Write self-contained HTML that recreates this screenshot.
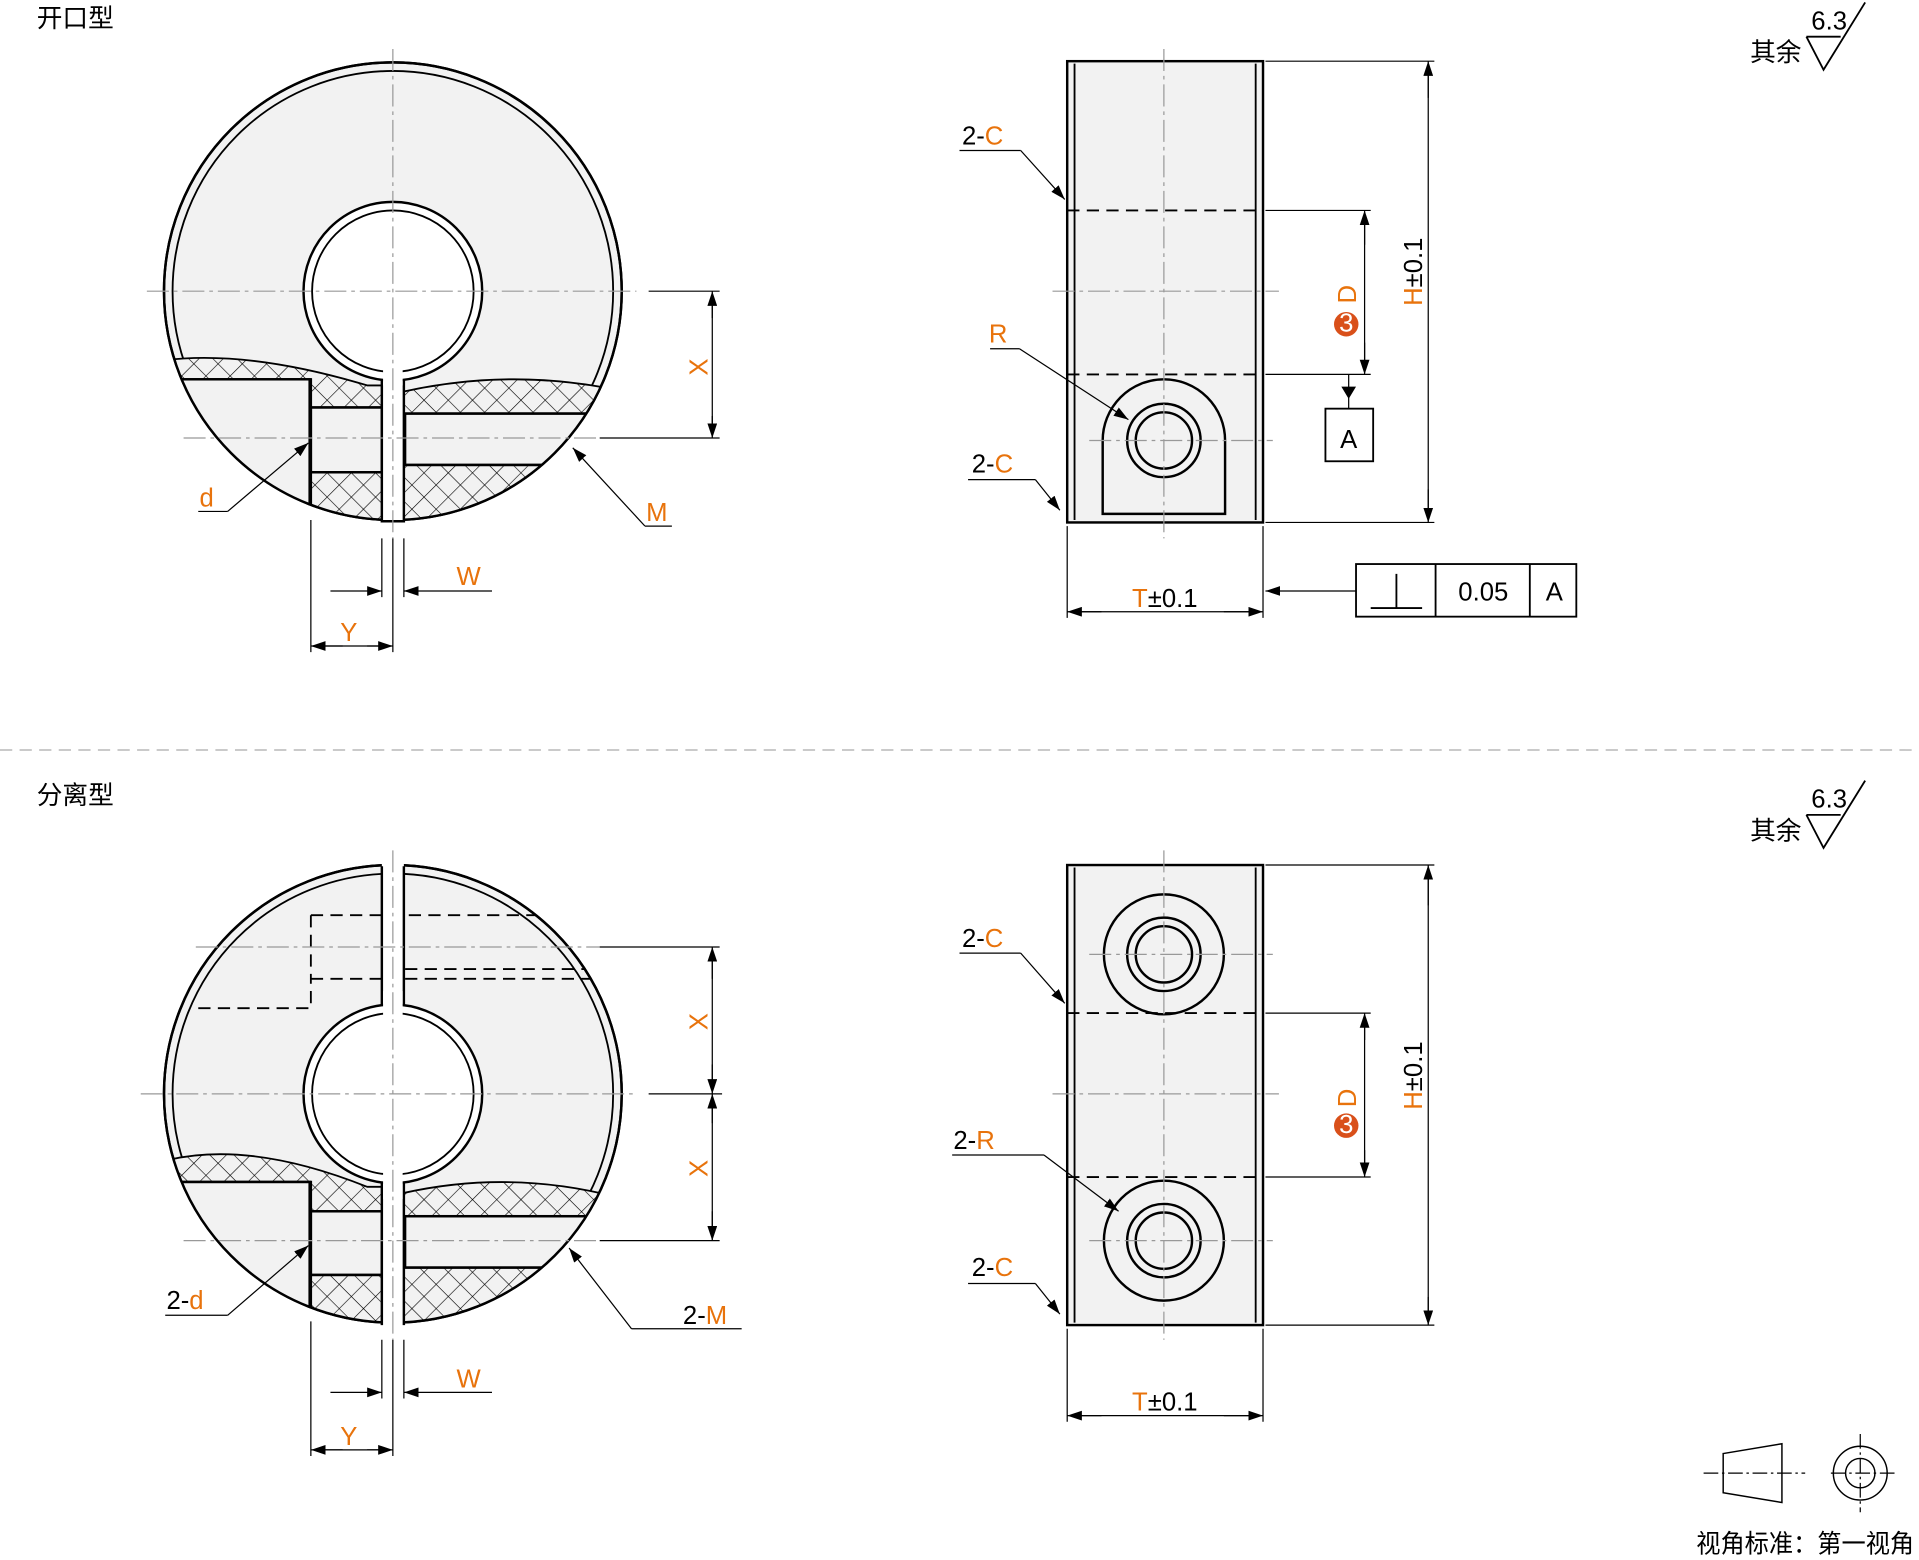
<!DOCTYPE html>
<html><head><meta charset="utf-8"><style>
html,body{margin:0;padding:0;background:#fff}
svg{display:block}
text{font-family:"Liberation Sans","Noto Sans CJK SC",sans-serif;font-size:21px}
.o{fill:#e8730c}
.ar{marker-end:url(#a);stroke-width:1}
</style></head><body>
<svg width="1919" height="1560" viewBox="0 0 1568 1275" preserveAspectRatio="none" xmlns="http://www.w3.org/2000/svg">
<defs>
<pattern id="h" width="14" height="14" patternUnits="userSpaceOnUse" patternTransform="rotate(45)">
<rect width="14" height="14" fill="#f2f2f2"/><path d="M0 0V14M0 0H14" stroke="#000" stroke-width="1"/></pattern>
<marker id="a" markerWidth="12" markerHeight="8" refX="12" refY="4" orient="auto" markerUnits="userSpaceOnUse"><path d="M0 0L12 4L0 8z" fill="#000"/></marker>
<clipPath id="c1"><circle cx="321" cy="238" r="187"/></clipPath>
<clipPath id="c2"><circle cx="321" cy="894" r="187"/></clipPath>
</defs>
<g fill="none" stroke="#000" stroke-width="2">
<!-- TOP LEFT -->
<text x="30" y="22" stroke="none" fill="#000">开口型</text>
<circle cx="321" cy="238" r="187" fill="#f2f2f2"/>
<circle cx="321" cy="238" r="180" stroke-width="1.5"/>
<g clip-path="url(#c1)">
<path d="M130 295 Q200 285 300 315 L312 315 L312 430 L130 430Z" fill="url(#h)" stroke-width="1.5"/>
<path d="M330 320 Q420 300 510 320 L510 430 L330 430Z" fill="url(#h)" stroke-width="1.5"/>
<rect x="130" y="310" width="123" height="120" fill="#f2f2f2"/>
<rect x="254" y="333" width="58" height="53" fill="#f2f2f2"/>
<rect x="331" y="338" width="180" height="42" fill="#f2f2f2"/>
<path d="M130 310H254V430M254 333H312M254 386H312M331 338H510M331 380H510"/>
</g>
<circle cx="321" cy="238" r="187"/>
<rect x="312" y="290" width="18" height="140" fill="#fff" stroke="none"/>
<path d="M312 300V426H330V300"/>
<circle cx="321" cy="238" r="73" fill="#fff"/>
<circle cx="321" cy="238" r="66" stroke-width="1.5"/>
<rect x="313" y="295" width="16" height="20" fill="#fff" stroke="none"/>
<g stroke="#999" stroke-width="1" stroke-dasharray="18 4 3 4"><path d="M321 40V440M120 238H520M150 358H490"/></g>
<path stroke-width="1" d="M530 238H588M490 358H588M582 250V346"/>
<path class="ar" d="M582 260V238"/><path class="ar" d="M582 340V358"/>
<path stroke-width="1" d="M254 425V533M321 440V533M312 440V488M330 440V488M256 528H319"/>
<path class="ar" d="M270 483H312"/><path class="ar" d="M402 483H330"/>
<path class="ar" d="M280 528H254"/><path class="ar" d="M300 528H321"/>
<path stroke-width="1" d="M162 418H186"/><path class="ar" d="M186 418L252 362"/>
<path stroke-width="1" d="M549 430H527"/><path class="ar" d="M527 430L468 366"/>
<text x="163" y="414" class="o" stroke="none">d</text>
<text x="528" y="426" class="o" stroke="none">M</text>
<text x="373" y="478" class="o" stroke="none">W</text>
<text x="278" y="524" class="o" stroke="none">Y</text>
<text x="578" y="300" class="o" stroke="none" transform="rotate(-90 578 300)" text-anchor="middle">X</text>

<!-- TOP RIGHT -->
<rect x="872" y="50" width="160" height="377" fill="#f2f2f2"/>
<path d="M878 52V425M1026 52V425" stroke-width="1.5"/>
<path d="M872 172H1032M872 306H1032" stroke-dasharray="10 6" stroke-width="1.5"/>
<path d="M901 420V360A50 50 0 0 1 1001 360V420Z" fill="#f2f2f2"/>
<circle cx="951" cy="360" r="30"/><circle cx="951" cy="360" r="23"/>
<g stroke="#999" stroke-width="1" stroke-dasharray="18 4 3 4"><path d="M951 40V440M860 238H1045M890 360H1040"/></g>
<path stroke-width="1" d="M1034 50H1172M1034 427H1172M1034 172H1120M1034 306H1120M1167 60V417M1115 182V296"/>
<path class="ar" d="M1167 80V50"/><path class="ar" d="M1167 400V427"/>
<path class="ar" d="M1115 200V172"/><path class="ar" d="M1115 280V306"/>
<path stroke-width="1" d="M1102 306V334"/><path d="M1096 316L1108 316L1102 326Z" fill="#000" stroke="none"/>
<rect x="1083" y="334" width="39" height="43" stroke-width="1.5"/>
<text x="1102" y="366" text-anchor="middle" stroke="none" fill="#000">A</text>
<path stroke-width="1" d="M872 430V505M1032 430V505M882 500H1022"/>
<path class="ar" d="M900 500H872"/><path class="ar" d="M1000 500H1032"/><path class="ar" d="M1108 483H1034"/>
<rect x="1108" y="461" width="180" height="43" stroke-width="1.5"/>
<path stroke-width="1.5" d="M1173 461V504M1250 461V504M1120 497H1162M1141 497V469"/>
<text x="1212" y="491" text-anchor="middle" stroke="none" fill="#000">0.05</text>
<text x="1270" y="491" text-anchor="middle" stroke="none" fill="#000">A</text>
<text x="925" y="496" stroke="none"><tspan class="o">T</tspan><tspan fill="#000">±0.1</tspan></text>
<text x="1162" y="250" stroke="none" transform="rotate(-90 1162 250)"><tspan class="o">H</tspan><tspan fill="#000">±0.1</tspan></text>
<circle cx="1100" cy="265" r="10" fill="#d9501a" stroke="none"/>
<text x="1100" y="271" font-size="14" text-anchor="middle" fill="#fff" stroke="none">3</text>
<text x="1108" y="248" class="o" stroke="none" transform="rotate(-90 1108 248)">D</text>
<path stroke-width="1" d="M784 123H834M809 285H833M791 392H846"/>
<path class="ar" d="M834 123L870 163"/><path class="ar" d="M833 285L922 343"/><path class="ar" d="M846 392L866 417"/>
<text x="786" y="118" stroke="none"><tspan fill="#000">2-</tspan><tspan class="o">C</tspan></text>
<text x="808" y="280" class="o" stroke="none">R</text>
<text x="794" y="386" stroke="none"><tspan fill="#000">2-</tspan><tspan class="o">C</tspan></text>

<!-- roughness symbols -->
<g stroke-width="1.5"><path d="M1476 30L1490 57L1524 2M1476 30H1504"/><path d="M1476 666L1490 693L1524 638M1476 666H1504"/></g>
<text x="1480" y="24" font-size="18" stroke="none" fill="#000">6.3</text>
<text x="1480" y="660" font-size="18" stroke="none" fill="#000">6.3</text>
<text x="1430" y="50" stroke="none" fill="#000">其余</text>
<text x="1430" y="686" stroke="none" fill="#000">其余</text>

<path d="M0 613H1568" stroke="#aaa" stroke-width="1" stroke-dasharray="10 6"/>

<!-- BOTTOM LEFT -->
<text x="30" y="657" stroke="none" fill="#000">分离型</text>
<circle cx="321" cy="894" r="187" fill="#f2f2f2"/>
<circle cx="321" cy="894" r="180" stroke-width="1.5"/>
<g clip-path="url(#c2)">
<path d="M130 950 Q200 930 300 970 L312 970 L312 1090 L130 1090Z" fill="url(#h)" stroke-width="1.5"/>
<path d="M330 975 Q420 955 510 980 L510 1090 L330 1090Z" fill="url(#h)" stroke-width="1.5"/>
<rect x="130" y="966" width="123" height="124" fill="#f2f2f2"/>
<rect x="254" y="990" width="58" height="52" fill="#f2f2f2"/>
<rect x="331" y="994" width="180" height="42" fill="#f2f2f2"/>
<path d="M130 966H254V1090M254 990H312M254 1042H312M331 994H510M331 1036H510"/>
<path d="M254 748H500M254 748V800M254 800H312M162 824H254V800M331 792H490M331 800H490" stroke-dasharray="10 6" stroke-width="1.5"/>
</g>
<circle cx="321" cy="894" r="187"/>
<rect x="312" y="700" width="18" height="390" fill="#fff" stroke="none"/>
<path d="M312 708V1083M330 708V1083"/>
<circle cx="321" cy="894" r="73" fill="#fff"/>
<circle cx="321" cy="894" r="66" stroke-width="1.5"/>
<rect x="313" y="810" width="16" height="170" fill="#fff" stroke="none"/>
<g stroke="#999" stroke-width="1" stroke-dasharray="18 4 3 4"><path d="M321 695V1095M115 894H520M160 774H490M150 1014H490"/></g>
<path stroke-width="1" d="M490 774H588M530 894H590M490 1014H588M582 784V884M582 904V1004"/>
<path class="ar" d="M582 800V774"/><path class="ar" d="M582 870V894"/><path class="ar" d="M582 918V894"/><path class="ar" d="M582 990V1014"/>
<path stroke-width="1" d="M254 1080V1190M321 1095V1190M312 1095V1143M330 1095V1143M256 1185H319"/>
<path class="ar" d="M270 1138H312"/><path class="ar" d="M402 1138H330"/>
<path class="ar" d="M280 1185H254"/><path class="ar" d="M300 1185H321"/>
<path stroke-width="1" d="M135 1075H186M606 1086H516"/>
<path class="ar" d="M186 1075L252 1018"/><path class="ar" d="M516 1086L465 1020"/>
<text x="136" y="1070" stroke="none"><tspan fill="#000">2-</tspan><tspan class="o">d</tspan></text>
<text x="558" y="1082" stroke="none"><tspan fill="#000">2-</tspan><tspan class="o">M</tspan></text>
<text x="373" y="1134" class="o" stroke="none">W</text>
<text x="278" y="1181" class="o" stroke="none">Y</text>
<text x="578" y="835" class="o" stroke="none" transform="rotate(-90 578 835)" text-anchor="middle">X</text>
<text x="578" y="955" class="o" stroke="none" transform="rotate(-90 578 955)" text-anchor="middle">X</text>

<!-- BOTTOM RIGHT -->
<rect x="872" y="707" width="160" height="376" fill="#f2f2f2"/>
<path d="M878 709V1081M1026 709V1081" stroke-width="1.5"/>
<path d="M872 828H1032M872 962H1032" stroke-dasharray="10 6" stroke-width="1.5"/>
<circle cx="951" cy="780" r="49"/><circle cx="951" cy="780" r="30"/><circle cx="951" cy="780" r="23"/>
<circle cx="951" cy="1014" r="49"/><circle cx="951" cy="1014" r="30"/><circle cx="951" cy="1014" r="23"/>
<g stroke="#999" stroke-width="1" stroke-dasharray="18 4 3 4"><path d="M951 695V1095M860 894H1045M890 780H1040M890 1014H1040"/></g>
<path stroke-width="1" d="M1034 707H1172M1034 1083H1172M1034 828H1120M1034 962H1120M1167 717V1073M1115 838V952"/>
<path class="ar" d="M1167 740V707"/><path class="ar" d="M1167 1060V1083"/><path class="ar" d="M1115 850V828"/><path class="ar" d="M1115 940V962"/>
<path stroke-width="1" d="M872 1086V1162M1032 1086V1162M882 1157H1022"/>
<path class="ar" d="M900 1157H872"/><path class="ar" d="M1000 1157H1032"/>
<text x="925" y="1153" stroke="none"><tspan class="o">T</tspan><tspan fill="#000">±0.1</tspan></text>
<text x="1162" y="907" stroke="none" transform="rotate(-90 1162 907)"><tspan class="o">H</tspan><tspan fill="#000">±0.1</tspan></text>
<circle cx="1100" cy="920" r="10" fill="#d9501a" stroke="none"/>
<text x="1100" y="926" font-size="14" text-anchor="middle" fill="#fff" stroke="none">3</text>
<text x="1108" y="905" class="o" stroke="none" transform="rotate(-90 1108 905)">D</text>
<path stroke-width="1" d="M784 779H834M778 944H853M791 1049H846"/>
<path class="ar" d="M834 779L870 820"/><path class="ar" d="M853 944L914 990"/><path class="ar" d="M846 1049L866 1074"/>
<text x="786" y="774" stroke="none"><tspan fill="#000">2-</tspan><tspan class="o">C</tspan></text>
<text x="779" y="939" stroke="none"><tspan fill="#000">2-</tspan><tspan class="o">R</tspan></text>
<text x="794" y="1043" stroke="none"><tspan fill="#000">2-</tspan><tspan class="o">C</tspan></text>

<!-- projection symbol -->
<g stroke-width="1.2"><path d="M1408 1188L1456 1180V1228L1408 1220Z"/><path d="M1392 1204H1475M1496 1204H1548M1520 1172V1236" stroke-dasharray="12 3 2 3" stroke-width="1"/>
<circle cx="1520" cy="1204" r="22"/><circle cx="1520" cy="1204" r="12"/></g>
<text x="1386" y="1269" font-size="18" textLength="178" lengthAdjust="spacingAndGlyphs" stroke="none" fill="#000">视角标准：第一视角</text>
</g>
</svg>
</body></html>
